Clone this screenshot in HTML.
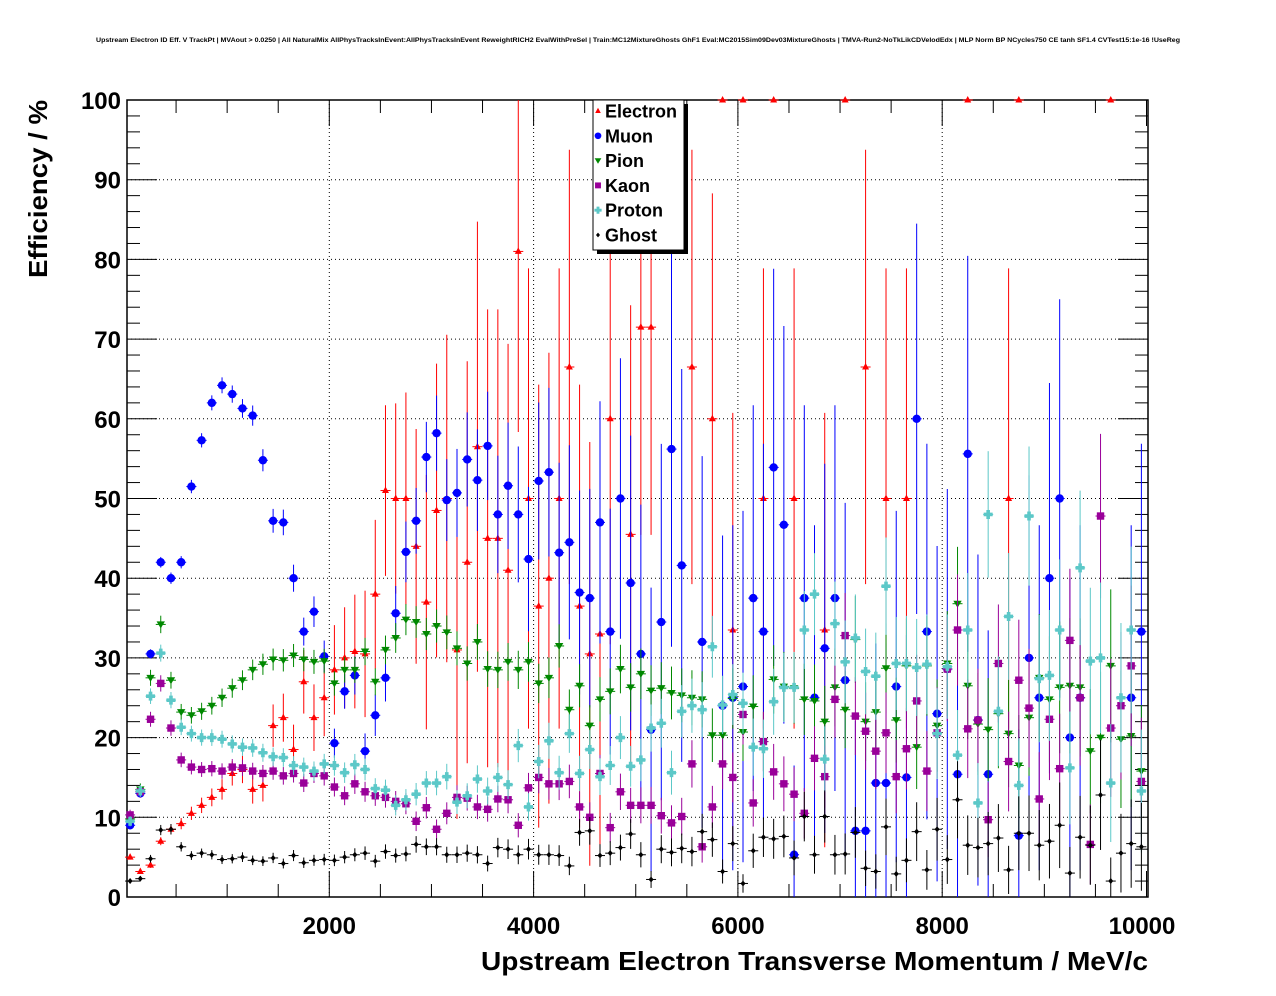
<!DOCTYPE html>
<html><head><meta charset="utf-8"><style>
html,body{margin:0;padding:0;background:#fff;}
svg{display:block;font-family:"Liberation Sans",sans-serif;}
</style></head><body>
<svg id="chart" width="1276" height="996" viewBox="0 0 1276 996" xmlns="http://www.w3.org/2000/svg">
<rect x="0" y="0" width="1276" height="996" fill="#fff"/>
<text x="96" y="42" font-size="6.5" font-weight="bold" textLength="1084" lengthAdjust="spacingAndGlyphs">Upstream Electron ID Eff. V TrackPt | MVAout &gt; 0.0250 | All NaturalMix AllPhysTracksInEvent:AllPhysTracksInEvent ReweightRICH2 EvalWithPreSel | Train:MC12MixtureGhosts GhF1 Eval:MC2015Sim09Dev03MixtureGhosts | TMVA-Run2-NoTkLikCDVelodEdx | MLP Norm BP NCycles750 CE tanh SF1.4 CVTest15:1e-16 !UseReg</text>
<g id="grid"></g>
<g id="axes"></g>
<g id="marks"></g>
<text transform="translate(47,278) rotate(-90)" font-size="26" font-weight="bold" textLength="178" lengthAdjust="spacingAndGlyphs">Efficiency / %</text>
<text x="481" y="970" font-size="26" font-weight="bold" textLength="667" lengthAdjust="spacingAndGlyphs">Upstream Electron Transverse Momentum / MeV/c</text>
<g id="legend"></g>
</svg>
<script>
const N=null;
const binCenters=[];for(let i=0;i<100;i++)binCenters.push(i*100+50);
const xTicks=[2000,4000,6000,8000,10000];
const yTicks=[0,10,20,30,40,50,60,70,80,90,100];
const seriesNames=["Electron","Muon","Pion","Kaon","Proton","Ghost"];
const electron=[5,3.2,4,7,8.5,9.2,10.5,11.5,12.5,13.5,15.5,16,13.5,14,21.5,22.5,18.5,27,22.5,25,28.5,30,30.8,30.5,38,
51,50,50,44,37,48.5,50,31,42,56.5,45,45,41,81,50,36.5,40,50,66.5,36.5,30.5,33,60,N,45.5,71.5,71.5,N,N,N,66.5,N,60,100,33.5,100,N,50,100,N,50,N,N,33.5,N,100,N,66.5,N,50,N,50,N,N,N,N,N,100,N,N,N,50,100,N,N,N,N,N,N,N,N,100,N,N,N];
const muon=[9,13,30.5,42,40,42,51.5,57.3,62,64.2,63.1,61.3,60.4,54.8,47.2,47,40,33.3,35.8,30.2,19.3,25.8,27.8,18.3,22.8,27.5,35.6,43.3,47.2,55.2,58.2,49.8,50.7,54.9,52.3,56.6,48,51.6,48,42.4,52.2,53.3,43.2,44.5,38.2,37.5,47,33.3,50,39.4,30.5,21,34.5,56.2,41.6,N,32,N,24,25,26.4,37.5,33.3,53.9,46.7,5.3,37.5,25,31.2,37.5,27.2,8.3,8.3,14.3,14.3,26.4,15,60,33.3,23,28.6,15.4,55.6,22.2,15.4,N,N,7.7,30,25,40,50,20,25,N,N,N,N,25,33.3];
const pion=[9.8,13.5,27.5,34.2,27.2,23.2,22.8,23.3,24,25,26.2,27.2,28.5,29.2,29.8,29.7,30.3,29.8,29.5,29.6,26.8,28.5,28.5,30.8,27,31,32.5,34.8,34.5,33,34,33.2,31.2,29.3,32,28.6,28.5,29.5,28.5,29.5,26.8,27.5,31.5,23.5,26.5,21.5,24.8,25.8,28.6,26.3,28,25.9,26.2,25.6,25.3,25,24.8,20.3,20.3,24.9,20.7,23.9,19.5,27.3,26.4,26.2,24.8,24.6,22,26.3,23.5,32.3,22,23.2,28.7,22.2,29,18.8,29,21.5,29.3,36.8,26.5,21.7,21,23,20.5,16.5,22.5,27.5,24.8,26.3,26.5,26.3,18.3,20,29,19.8,20.2,15.8];
const kaon=[10.3,13.2,22.3,26.8,21.2,17.2,16.3,16,16.1,15.8,16.3,16.2,15.8,15.5,15.8,15.2,15.5,14.3,15.5,15.2,13.8,12.7,14.2,13.2,12.7,12.5,12,11.7,9.5,11.2,8.5,10.5,12.5,12.4,11.3,11,12.3,12.2,9,13.7,15,14.2,14.2,14.5,11.3,10,15.5,8.7,13.2,11.5,11.5,11.5,10.2,9.3,10.1,16.7,6.3,11.3,16.7,15,22.9,11.8,19.5,15.7,14.2,12.9,10.5,17.4,15.1,24.8,32.8,22.7,20.8,18.3,20.6,15.1,18.6,24.6,15.8,20.6,28.6,33.5,21.1,22.2,9.7,29.3,17,27.2,23.7,12.3,22.3,16.1,32.2,25,6.6,47.8,21.2,24,29,14.5];
const proton=[9.5,13.3,25.2,30.6,24.7,21.3,20.5,20,20,19.8,19.2,18.8,18.7,18.1,17.6,17.5,16.5,16.3,15.8,16.7,16.5,15.6,16.6,16,13.6,13.4,11.5,12.2,12.9,14.3,14.3,15.1,11.9,12.7,14.8,13.3,15,14.1,19,11.3,17,19.6,15.6,20.5,15.5,18.5,15.1,16.5,20,16.4,17.2,21.2,21.8,15.6,23.3,24,23.5,31.4,24.1,25.4,24.3,18.8,18.6,24.5,26.3,26.3,33.5,38,17.3,34.3,29.5,32.5,28.3,27.7,39,29.3,29.3,28.8,29.2,20.5,28.9,17.8,33.5,11.8,48,23.3,35.2,14,47.8,27.4,27.8,33.5,16.2,41.3,29.6,30,14.3,25,33.5,13.3];
const ghost=[2,2.3,4.8,8.4,8.5,6.3,5.2,5.5,5.3,4.7,4.8,5,4.6,4.5,4.9,4.2,5.2,4.3,4.6,4.7,4.6,5,5.3,5.5,4.5,5.7,5.2,5.4,6.6,6.3,6.3,5.3,5.3,5.5,5.3,4.2,6.2,6,5.3,6,5.3,5.3,5.2,3.9,8.1,8.3,5.2,5.5,6.2,7.9,5.3,2.2,6,5.6,6.1,5.7,8.2,7.2,3.2,6.7,1.7,5.8,7.5,7.3,7.6,4.9,10.1,5.3,10.1,5.3,5.4,8.1,3.6,3.2,8.8,2.9,4.6,8.2,3.4,8.5,4.7,12.2,6.5,6.2,6.7,7.4,3.4,8,8,6.5,7,9,3,7.5,6.5,12.8,2,5.5,6.7,6.3];

const X0=127,X1=1148,Y0=897,Y1=100;
function sx(v){return 125+v*0.10215;}
function sy(v){return Y0-(v/100)*(Y0-Y1);}
const NS="http://www.w3.org/2000/svg";
function mk(tag,attrs,parent){const e=document.createElementNS(NS,tag);for(const k in attrs)e.setAttribute(k,attrs[k]);parent.appendChild(e);return e;}
const grid=document.getElementById('grid'),axes=document.getElementById('axes'),marks=document.getElementById('marks'),legend=document.getElementById('legend');
yTicks.forEach(t=>{if(t>0&&t<100){const l=mk('line',{x1:X0,x2:X1,y1:sy(t),y2:sy(t),stroke:'#000','stroke-width':1,'stroke-dasharray':'1,3'},grid);

}});
xTicks.forEach(t=>{if(t<10000){const l=mk('line',{x1:sx(t),x2:sx(t),y1:Y1,y2:Y0,stroke:'#000','stroke-width':1,'stroke-dasharray':'1,3'},grid);

}});
const fr=mk('rect',{x:X0,y:Y1,width:X1-X0,height:Y0-Y1,fill:'none',stroke:'#000','stroke-width':1.5},axes);


for(let v=0;v<=100;v+=2){const major=v%10===0;const len=major?30:13;
const tk=mk('line',{x1:X0,x2:X0+len,y1:sy(v),y2:sy(v),stroke:'#000','stroke-width':1},axes);


const tk2=mk('line',{x1:X1,x2:X1-len,y1:sy(v),y2:sy(v),stroke:'#000','stroke-width':1},axes);

}
yTicks.forEach(t=>{const tx=mk('text',{x:121,y:sy(t)+9,'font-size':24,'font-weight':'bold','text-anchor':'end'},axes);tx.textContent=t;

});
for(let v=500;v<=10000;v+=500){const major=v%2000===0;const len=major?26:13;
const tk=mk('line',{x1:sx(v),x2:sx(v),y1:Y0,y2:Y0-len,stroke:'#000','stroke-width':1},axes);


const tk2=mk('line',{x1:sx(v),x2:sx(v),y1:Y1,y2:Y1+len,stroke:'#000','stroke-width':1},axes);

}
xTicks.forEach(t=>{const tx=mk('text',{x:Math.min(sx(t),1142),y:934,'font-size':24,'font-weight':'bold','text-anchor':'middle'},axes);tx.textContent=t;

});
function marker(type,color,x,y,parent,s){
 let e;
 if(type==='tu')e=mk('polygon',{points:`${x},${y-4*s} ${x-3.5*s},${y+2.5*s} ${x+3.5*s},${y+2.5*s}`,fill:color},parent);
 else if(type==='c')e=mk('circle',{cx:x,cy:y,r:4.2*s,fill:color},parent);
 else if(type==='td')e=mk('polygon',{points:`${x},${y+4*s} ${x-4.2*s},${y-3*s} ${x+4.2*s},${y-3*s}`,fill:color},parent);
 else if(type==='sq')e=mk('rect',{x:x-3.7*s,y:y-3.7*s,width:7.4*s,height:7.4*s,fill:color},parent);
 else if(type==='cr')e=mk('polygon',{points:`${x-1.8*s},${y-4.5*s} ${x+1.8*s},${y-4.5*s} ${x+1.8*s},${y-1.8*s} ${x+4.5*s},${y-1.8*s} ${x+4.5*s},${y+1.8*s} ${x+1.8*s},${y+1.8*s} ${x+1.8*s},${y+4.5*s} ${x-1.8*s},${y+4.5*s} ${x-1.8*s},${y+1.8*s} ${x-4.5*s},${y+1.8*s} ${x-4.5*s},${y-1.8*s} ${x-1.8*s},${y-1.8*s}`,fill:color},parent);
 else e=mk('polygon',{points:`${x},${y-3*s} ${x+2.5*s},${y} ${x},${y+3*s} ${x-2.5*s},${y}`,fill:color},parent);
 return e;
}
const styles=[
 {data:electron,color:'#ff0000',type:'tu',n0:5000,ref:0,tau:4.6,min:3},
 {data:muon,color:'#0000ff',type:'c',n0:2300,ref:9,tau:6.9,min:4},
 {data:pion,color:'#008800',type:'td',n0:200,ref:50,tau:21,min:12},
 {data:kaon,color:'#990099',type:'sq',n0:200,ref:50,tau:21,min:12},
 {data:proton,color:'#5cc8c8',type:'cr',n0:200,ref:50,tau:21,min:12},
 {data:ghost,color:'#000000',type:'d',n0:200,ref:50,tau:21,min:12}];
styles.forEach((st,si)=>{
 const g=mk('g',{},marks);
 
 
 st.data.forEach((v,i)=>{
  if(v===null)return;
  const x=sx(binCenters[i]),y=sy(v);
  const n=Math.max(st.min,st.n0*Math.exp((st.ref-i)/st.tau));
  const p=v/100;const err=100*Math.sqrt(p*(1-p)/n);
  const lo=Math.max(0,v-err),hi=Math.min(100,v+err);
  const eb=mk('line',{x1:x,x2:x,y1:sy(lo),y2:sy(hi),stroke:st.color,'stroke-width':1},g);
  
  
  const hb=mk('line',{x1:x-5,x2:x+5,y1:y,y2:y,stroke:st.color,'stroke-width':1},g);
  
  
  const m=marker(st.type,st.color,x,y,g,1);
  
  
 });
});
const sh=mk('rect',{x:597,y:104,width:91,height:150,fill:'#000'},legend);


const lb=mk('rect',{x:593,y:100,width:91,height:150,fill:'#fff',stroke:'#000','stroke-width':1},legend);


styles.forEach((st,si)=>{
 const y=111+si*24.8;
 const g=mk('g',{},legend);
 
 
 marker(st.type,st.color,598,y,g,0.8);
 const t=mk('text',{x:605,y:y+6.5,'font-size':18,'font-weight':'bold'},g);
 t.textContent=seriesNames[si];
});
</script>
</body></html>
